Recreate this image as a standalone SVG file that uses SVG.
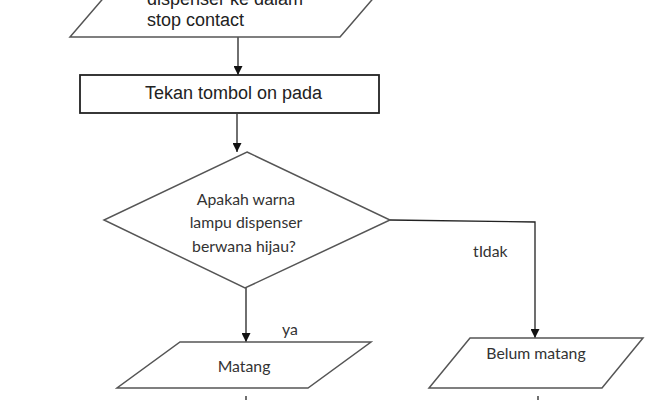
<svg xmlns="http://www.w3.org/2000/svg" width="650" height="400" viewBox="0 0 650 400">
<defs>
<style>
.shape{fill:#fff;stroke:#555;stroke-width:1.5}
.box{fill:#fff;stroke:#222;stroke-width:1.8}
.conn{fill:none;stroke:#222;stroke-width:1.3}
.ta{font-family:"Liberation Sans",Arial,sans-serif;font-size:18px;fill:#222}
.tc{font-family:Lato,"Open Sans",sans-serif;font-size:15.8px;fill:#333}
</style>
<marker id="arr" viewBox="0 0 10 10" refX="10" refY="5" markerWidth="10" markerHeight="9" markerUnits="userSpaceOnUse" orient="auto">
<path d="M0,0 L10,5 L0,10 Z" fill="#111"/>
</marker>
</defs>
<rect width="650" height="400" fill="#fff"/>
<g id="connectors">
<line class="conn" x1="238" y1="37" x2="238" y2="75" marker-end="url(#arr)"/>
<line class="conn" x1="237" y1="114" x2="237" y2="152" marker-end="url(#arr)"/>
<line class="conn" x1="246" y1="288" x2="246" y2="342" marker-end="url(#arr)"/>
<polyline class="conn" points="390,220 535,222 535,338" marker-end="url(#arr)"/>
<line class="conn" x1="246" y1="396" x2="246" y2="400"/>
<line class="conn" x1="538" y1="396" x2="538" y2="400"/>
</g>
<g id="node-input">
<polygon class="shape" points="119,-20 389,-20 340,37 70,37"/>
<text class="ta" x="147" y="5">dispenser ke dalam</text>
<text class="ta" x="147" y="26">stop contact</text>
</g>
<g id="node-tekan">
<rect class="box" x="80" y="75" width="299" height="38"/>
<text class="ta" x="145" y="99">Tekan tombol on pada</text>
</g>
<g id="node-decision">
<polygon class="shape" points="247,152 390,220 245,288 104,220"/>
<text class="tc" x="246" y="205" text-anchor="middle">Apakah warna</text>
<text class="tc" x="246" y="228" text-anchor="middle">lampu dispenser</text>
<text class="tc" x="244" y="252" text-anchor="middle">berwana hijau?</text>
</g>
<g id="node-matang">
<polygon class="shape" points="180,342 371,342 308,388 117,388"/>
<text class="tc" x="244" y="372" text-anchor="middle">Matang</text>
</g>
<g id="node-belum">
<polygon class="shape" points="470,338 643,338 602,388 429,388"/>
<text class="tc" x="536" y="359" text-anchor="middle">Belum matang</text>
</g>
<g id="labels">
<text class="tc" x="282" y="335">ya</text>
<text class="tc" x="473" y="257">tIdak</text>
</g>
</svg>
